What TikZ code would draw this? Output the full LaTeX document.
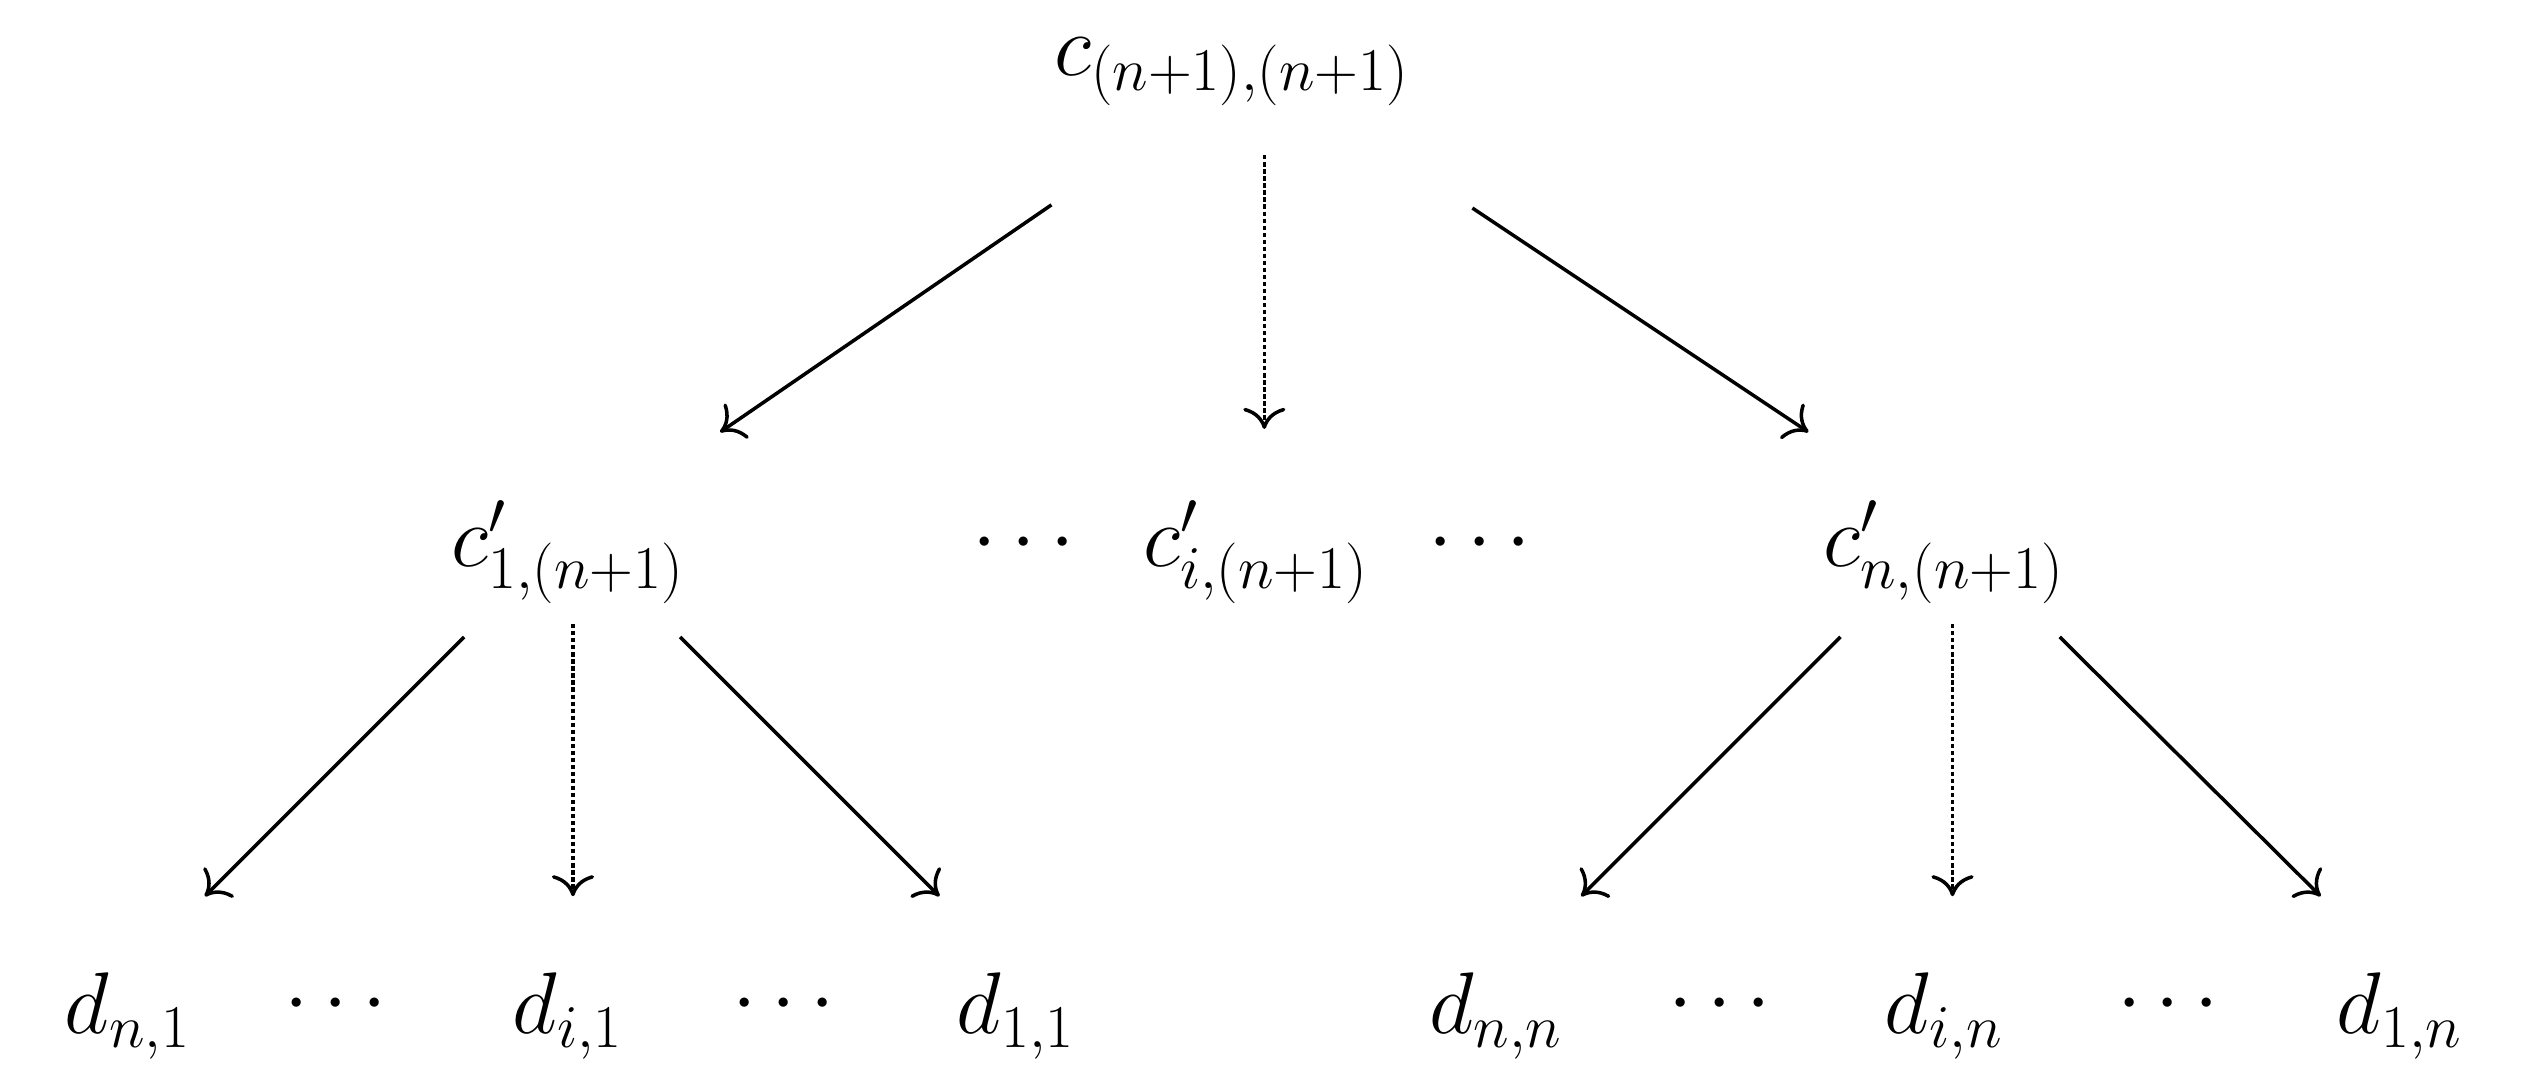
\documentclass[tikz,border=0pt]{standalone}
\usetikzlibrary{arrows.meta}
\begin{document}
\begin{tikzpicture}[x=0.01cm,y=-0.01cm,
  lbl/.style={font=\fontsize{26}{30}\selectfont, inner sep=0pt},
  arr/.style={line width=1pt,-{To[length=6pt,width=12pt]}},
  darr/.style={arr,dash pattern=on 1.2pt off 0.8pt}]
\useasboundingbox (0,0) rectangle (2531,1084);
\begin{scope}[xscale=1.6,yscale=1.6]
\node[lbl] (top) at (770,45) {$c_{(n+1),(n+1)}$};
\node[lbl] (c1) at (355,345) {$c'_{1,(n+1)}$};
\node[lbl] (dl) at (640,340) {$\cdots$};
\node[lbl] (ci) at (785,345) {$c'_{i,(n+1)}$};
\node[lbl] (dr) at (925,340) {$\cdots$};
\node[lbl] (cn) at (1215,345) {$c'_{n,(n+1)}$};
\node[lbl] (d1) at (80,635) {$d_{n,1}$};
\node[lbl] at (210,628) {$\cdots$};
\node[lbl] (d2) at (355,635) {$d_{i,1}$};
\node[lbl] at (490,628) {$\cdots$};
\node[lbl] (d3) at (635,635) {$d_{1,1}$};
\node[lbl] (d4) at (935,635) {$d_{n,n}$};
\node[lbl] at (1075,628) {$\cdots$};
\node[lbl] (d5) at (1215,635) {$d_{i,n}$};
\node[lbl] at (1355,628) {$\cdots$};
\node[lbl] (d6) at (1500,635) {$d_{1,n}$};
\coordinate (a1) at (657,128); \coordinate (b1) at (450,270);
\coordinate (a2) at (790,97);  \coordinate (b2) at (790,268);
\coordinate (a3) at (920,130); \coordinate (b3) at (1130,270);
\coordinate (e1) at (290,398); \coordinate (f1) at (128,560);
\coordinate (e2) at (358,390); \coordinate (f2) at (358,560);
\coordinate (e3) at (425,398); \coordinate (f3) at (587,560);
\coordinate (e4) at (1150,398); \coordinate (f4) at (988,560);
\coordinate (e5) at (1220,390); \coordinate (f5) at (1220,560);
\coordinate (e6) at (1287,398); \coordinate (f6) at (1450,560);
\draw[arr] (a1) -- (b1);
\draw[darr] (a2) -- (b2);
\draw[arr] (a3) -- (b3);
\draw[arr] (e1) -- (f1);
\draw[darr] (e2) -- (f2);
\draw[arr] (e3) -- (f3);
\draw[arr] (e4) -- (f4);
\draw[darr] (e5) -- (f5);
\draw[arr] (e6) -- (f6);
\end{scope}
\end{tikzpicture}
\end{document}
